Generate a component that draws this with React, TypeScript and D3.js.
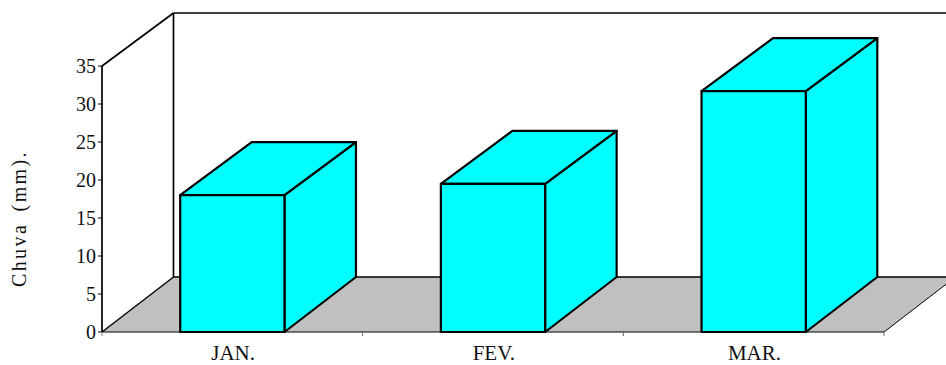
import * as d3 from "d3";

// Monthly rainfall, pseudo-3D column chart
const months = ["JAN.", "FEV.", "MAR."];
const rainfall = [18, 19.5, 31.7];
const yTicks = [0, 5, 10, 15, 20, 25, 30, 35];
const yTitle = "Chuva (mm).";

const width = 946;
const height = 365;
const x0 = 102;
const x1 = 884;
const yBase = 332;
const yTop = 66;
const depthX = 71.5;
const floorDepth = 55;
const topDepth = 53;
const serif = "'Liberation Serif', 'Times New Roman', serif";

const x = d3.scaleBand<string>().domain(months).range([x0, x1]).paddingInner(0.6).paddingOuter(0.3);
const y = d3.scaleLinear().domain([0, 35]).range([yBase, yTop]);

const poly = (pts: [number, number][]) => d3.line()(pts) + "Z";

export default function App() {
  const step = x.step();
  const boundaries = months.map((_, i) => x0 + step * (i + 1));
  const wallTop = yTop - topDepth;
  const floorBack = yBase - floorDepth;
  return (
    <svg
      width={width}
      height={height}
      style={{ position: "absolute", left: 0, top: 0, background: "#fff", fontFamily: serif }}
    >
      {/* floor */}
      <path
        d={poly([
          [x0, yBase],
          [x0 + depthX, floorBack],
          [x1 + depthX, floorBack],
          [x1, yBase],
        ])}
        fill="#c0c0c0"
        stroke="none"
      />
      <line x1={x0} y1={yBase} x2={x1} y2={yBase} stroke="#000" strokeWidth={1.2} />
      <line x1={x1} y1={yBase} x2={x1 + depthX} y2={floorBack} stroke="#000" strokeWidth={1} />
      <line x1={x0} y1={yBase} x2={x0 + depthX} y2={floorBack} stroke="#000" strokeWidth={1.4} />
      <line x1={x0 + depthX} y1={floorBack} x2={x1 + depthX} y2={floorBack} stroke="#000" strokeWidth={1.7} />

      {/* walls */}
      <line x1={x0} y1={yBase} x2={x0} y2={yTop} stroke="#000" strokeWidth={1.7} />
      <line x1={x0} y1={yTop} x2={x0 + depthX} y2={wallTop} stroke="#000" strokeWidth={1.7} />
      <line x1={x0 + depthX} y1={wallTop} x2={x0 + depthX} y2={floorBack} stroke="#000" strokeWidth={1.7} />
      <line x1={x0 + depthX} y1={wallTop} x2={width} y2={wallTop} stroke="#000" strokeWidth={1.7} />

      {/* value axis */}
      {yTicks.map((t) => (
        <g key={t}>
          <line x1={x0 - 4} x2={x0} y1={y(t)} y2={y(t)} stroke="#000" strokeWidth={1} />
          <text x={x0 - 6} y={y(t)} dy="0.34em" textAnchor="end" fontSize={20} fill="#111">
            {t}
          </text>
        </g>
      ))}
      <line x1={x0} x2={x0} y1={yBase} y2={yBase + 4} stroke="#888" strokeWidth={1} />

      {/* category ticks and labels */}
      {boundaries.map((b) => (
        <line key={b} x1={b} x2={b} y1={yBase} y2={yBase + 4} stroke="#666" strokeWidth={1} />
      ))}
      {months.map((m) => (
        <text key={m} x={x(m)! + x.bandwidth() / 2 + 0.8} y={360} textAnchor="middle" fontSize={21} fill="#111">
          {m}
        </text>
      ))}

      {/* columns */}
      {months.map((m, i) => {
        const left = x(m)!;
        const right = left + x.bandwidth();
        const top = y(rainfall[i]);
        const faces: [number, number][][] = [
          [
            [right, yBase],
            [right + depthX, floorBack],
            [right + depthX, top - topDepth],
            [right, top],
          ],
          [
            [left, top],
            [left + depthX, top - topDepth],
            [right + depthX, top - topDepth],
            [right, top],
          ],
          [
            [left, top],
            [right, top],
            [right, yBase],
            [left, yBase],
          ],
        ];
        return (
          <g key={m}>
            {faces.map((f, j) => (
              <path key={j} d={poly(f)} fill="#00ffff" stroke="#000" strokeWidth={2.2} strokeLinejoin="round" />
            ))}
          </g>
        );
      })}

      {/* axis title */}
      <text
        transform="translate(26,218.5) rotate(-90)"
        textAnchor="middle"
        fontSize={20}
        letterSpacing={2.4}
        wordSpacing={4}
        fill="#111"
      >
        {yTitle}
      </text>
    </svg>
  );
}
